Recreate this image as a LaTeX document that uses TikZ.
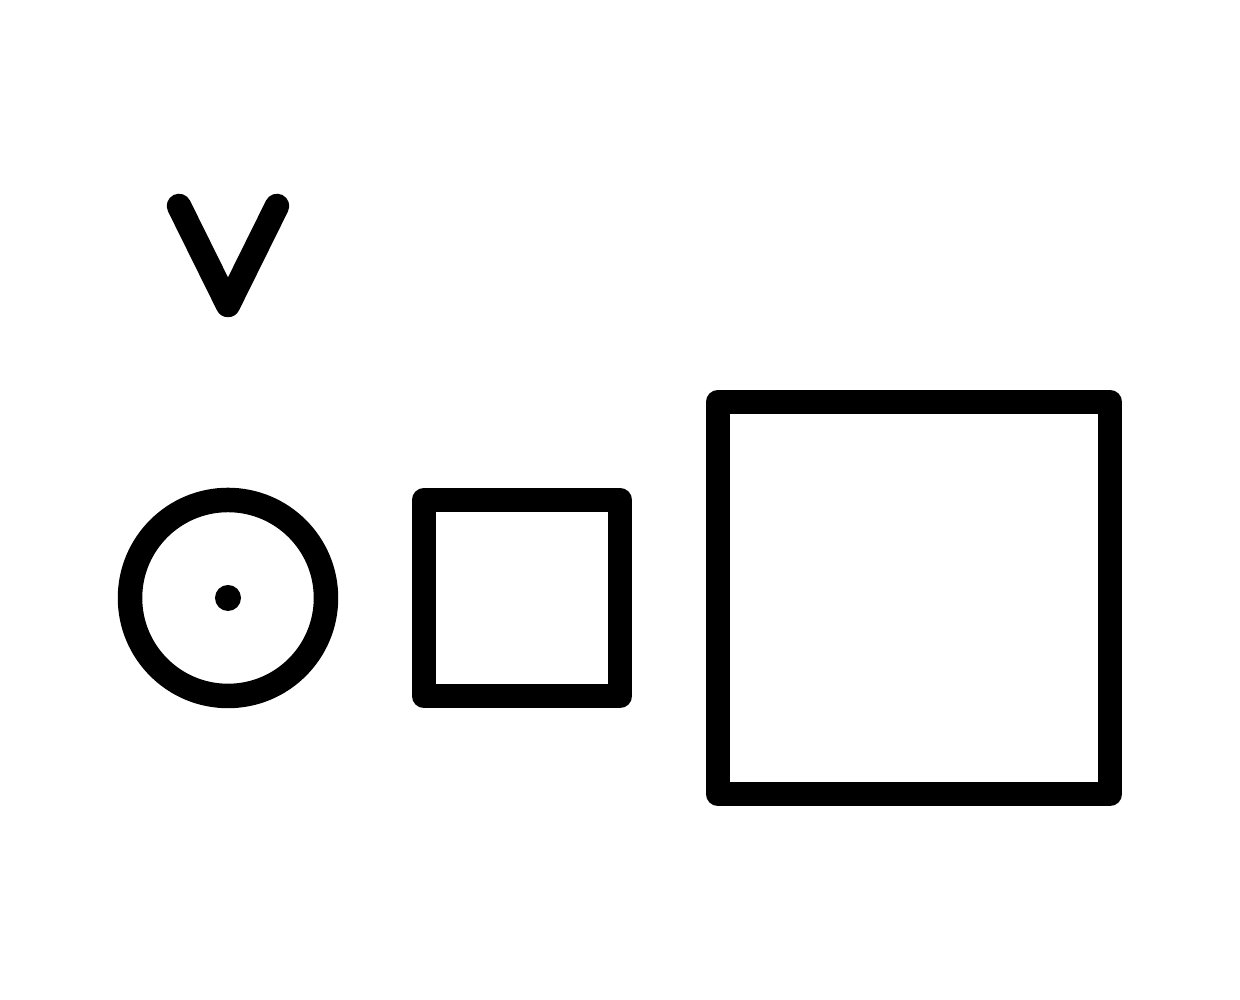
\documentclass[tikz,border=0pt]{standalone}
\usepackage{tikz}
\usetikzlibrary{positioning}

\begin{document}
\begin{tikzpicture}[node distance=0.98cm, line width=0.245cm, line join=round, line cap=round,
  shapebox/.style={draw=black,inner sep=0pt,outer sep=0pt}]
  \useasboundingbox (0,0) rectangle (12.4,10);
  \node[shapebox,circle,minimum size=1.96cm] (eye) at (2.28,4.02) {};
  \node[shapebox,rectangle,minimum width=1.96cm,minimum height=1.96cm,right=of eye] (small) {};
  \node[shapebox,rectangle,minimum width=3.92cm,minimum height=3.92cm,right=of small] (large) {};
  \fill (eye.center) circle (0.13);
  \coordinate (vtip) at (2.28,6.95);
  \draw (1.79,7.94) -- (vtip) -- (2.77,7.94);
\end{tikzpicture}
\end{document}
